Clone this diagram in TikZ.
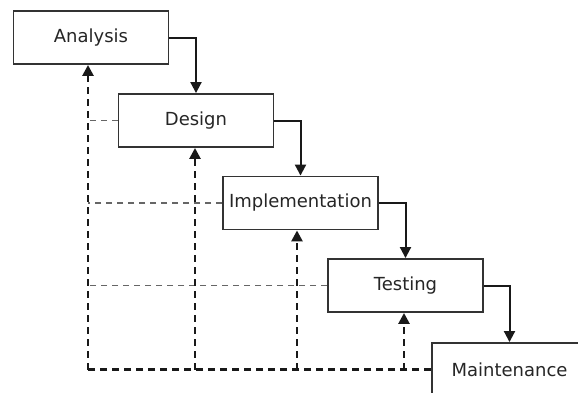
\documentclass[tikz,border=0pt]{standalone}
\usepackage{fontspec}
\setmainfont{DejaVu Sans}
\usetikzlibrary{arrows.meta}
\begin{document}
\begin{tikzpicture}[x=1pt,y=-1pt,
  phase/.style={draw=black!80,line width=1.9pt,minimum width=155pt,minimum height=53pt,inner sep=0pt,
    font=\fontsize{18pt}{20pt}\selectfont,text=black!85},
  flow/.style={draw=black!90,line width=2pt,-{Triangle[length=11pt,width=11pt]}},
  back/.style={draw=black!90,line width=2.6pt,dash pattern=on 7pt off 5pt},
  backarrow/.style={back,-{Triangle[length=11pt,width=11pt]}},
  side/.style={draw=black!60,line width=1.6pt,dash pattern=on 6pt off 5pt}]
\useasboundingbox (0,0) rectangle (578,392);
\clip (0,0) rectangle (578,392);
\fill[white] (0,0) rectangle (578,392);
\node[phase] (A) at (91,37.5) {Analysis};
\node[phase] (D) at (196,120.5) {Design};
\node[phase] (I) at (300.5,203) {Implementation};
\node[phase] (T) at (405.5,285.5) {Testing};
\node[phase] (M) at (509.5,369.5) {Maintenance};
% solid flow
\draw[flow] (A.east) -| (D.north);
\draw[flow] (D.east) -| (I.north);
\draw[flow] (I.east) -| (T.north);
\draw[flow] (T.east) -| (M.north);
% feedback coordinates
\coordinate (c0) at (88,369.5);
\coordinate (c1) at (195,369.5);
\coordinate (c2) at (297,369.5);
\coordinate (c3) at (404,369.5);
% gray side dashes
\draw[side] (D.west) -- (88,120.5);
\draw[side] (I.west) -- (88,203);
\draw[side] (T.west) -- (88,285.5);
% thick feedback
\draw[back] (M.west) -- (c0);
\draw[backarrow] (c0) -- (c0 |- A.south);
\draw[backarrow] (c1) -- (c1 |- D.south);
\draw[backarrow] (c2) -- (c2 |- I.south);
\draw[backarrow] (c3) -- (c3 |- T.south);
\end{tikzpicture}
\end{document}
